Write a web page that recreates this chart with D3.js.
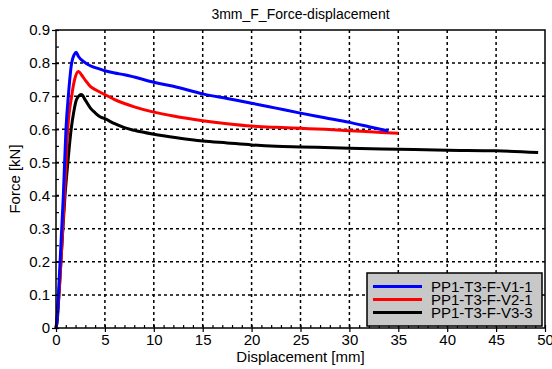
<!DOCTYPE html>
<meta charset="utf-8">
<title>3mm_F_Force-displacement</title>
<style>

body {
  margin: 0px;
  background: #fff;
}

text {
  font-family: "Liberation Sans", Arial, sans-serif;
  fill: #000;
}

.grid line {
  stroke: #000;
  stroke-width: 1.5;
  stroke-dasharray: 3,3;
}

path.curve {
  fill: none;
  stroke-width: 3;
  stroke-linejoin: round;
}

</style>

<script src="https://d3js.org/d3.v7.min.js"></script>

<body>

<script>

var width = 552, height = 369;

// series: displacement [mm] and force [kN]
var names = ["PP1-T3-F-V1-1", "PP1-T3-F-V2-1", "PP1-T3-F-V3-3"];
var colors = ["#0000ff", "#ff0000", "#000000"];

var v1x = [0, 0.1, 0.25, 0.5, 0.75, 1.02, 1.26, 1.6, 1.85, 2.05, 2.3, 2.8, 3.5, 4.5, 5, 6, 7, 8, 10, 12, 15, 17.5, 20, 22.5, 25, 27.5, 30, 32, 34];
var v1f = [0, 0.02, 0.1, 0.25, 0.4, 0.6, 0.7, 0.8, 0.825, 0.833, 0.82, 0.805, 0.792, 0.782, 0.777, 0.77, 0.765, 0.758, 0.742, 0.73, 0.707, 0.693, 0.679, 0.664, 0.649, 0.635, 0.621, 0.608, 0.595];

var v2x = [0, 0.1, 0.3, 0.6, 0.95, 1.2, 1.6, 1.9, 2.3, 2.6, 3.0, 3.5, 4, 5, 6, 7, 8, 10, 12, 15, 17.5, 20, 22.5, 25, 27.5, 30, 32.5, 35];
var v2f = [0, 0.03, 0.1, 0.25, 0.45, 0.6, 0.7, 0.75, 0.775, 0.765, 0.748, 0.73, 0.72, 0.705, 0.69, 0.678, 0.668, 0.652, 0.64, 0.626, 0.617, 0.61, 0.606, 0.603, 0.6, 0.596, 0.592, 0.588];

var v3x = [0, 0.15, 0.3, 0.6, 0.92, 1.15, 1.37, 1.55, 1.8, 2.1, 2.6, 3.0, 3.5, 4, 4.5, 5, 6, 7, 8, 10, 12.5, 15, 17.5, 20, 22.5, 25, 30, 35, 40, 45, 49.3];
var v3f = [0, 0.03, 0.1, 0.25, 0.4, 0.48, 0.55, 0.6, 0.65, 0.69, 0.705, 0.688, 0.665, 0.65, 0.638, 0.632, 0.617, 0.605, 0.597, 0.585, 0.574, 0.565, 0.559, 0.553, 0.549, 0.547, 0.543, 0.54, 0.537, 0.535, 0.53];

var xTicks = [0, 5, 10, 15, 20, 25, 30, 35, 40, 45, 50];
var yTicks = [0, 0.1, 0.2, 0.3, 0.4, 0.5, 0.6, 0.7, 0.8, 0.9];

var series = [[v1x, v1f], [v2x, v2f], [v3x, v3f]];

var plotL = 56, plotR = 545, plotT = 30, plotB = 328;

var x = d3.scaleLinear().domain([0, 50]).range([plotL, plotR]);
var y = d3.scaleLinear().domain([0, 0.9]).range([plotB, plotT]);

var svg = d3.select("body").append("svg")
    .attr("width", width)
    .attr("height", height);

// grid
var grid = svg.append("g").attr("class", "grid");
grid.selectAll("line.gx")
    .data(xTicks.slice(1, -1))
  .enter().append("line")
    .attr("x1", x).attr("x2", x)
    .attr("y1", plotT).attr("y2", plotB);
grid.selectAll("line.gy")
    .data(yTicks.slice(1, -1))
  .enter().append("line")
    .attr("y1", y).attr("y2", y)
    .attr("x1", plotL).attr("x2", plotR);

// curves
var line = d3.line()
    .x(function(d) { return x(d[0]); })
    .y(function(d) { return y(d[1]); })
    .curve(d3.curveMonotoneX);

svg.selectAll("path.curve")
    .data(series.slice().reverse())
  .enter().append("path")
    .attr("class", "curve")
    .attr("stroke", function(d, i) { return colors[2 - i]; })
    .attr("d", function(d) { return line(d3.zip(d[0], d[1])); });

// axes
var xAxis = svg.append("g")
    .attr("transform", "translate(0," + plotB + ")")
    .call(d3.axisBottom(x).tickValues(xTicks).tickSize(4).tickPadding(2).tickFormat(d3.format("d")));
var yAxis = svg.append("g")
    .attr("transform", "translate(" + plotL + ",0)")
    .call(d3.axisLeft(y).tickValues(yTicks).tickSize(4).tickPadding(2).tickFormat(function(d) { return d === 0 ? "0" : d3.format(".1f")(d); }));

// minor ticks, pointing inward
svg.append("g").call(d3.axisBottom(x).ticks(50).tickSize(-3).tickFormat(""))
    .attr("transform", "translate(0," + plotB + ")");
svg.append("g").call(d3.axisLeft(y).ticks(18).tickSize(-3).tickFormat(""))
    .attr("transform", "translate(" + plotL + ",0)");

svg.selectAll(".tick line").attr("stroke", "#000").attr("stroke-width", 1.2);
svg.selectAll(".domain").remove();
[xAxis, yAxis].forEach(function(a) {
  a.selectAll("text")
      .attr("font-size", 15)
      .attr("font-family", "Liberation Sans, Arial, sans-serif")
      .attr("fill", "#000");
});

// frame
svg.append("rect")
    .attr("x", plotL).attr("y", plotT)
    .attr("width", plotR - plotL).attr("height", plotB - plotT)
    .attr("fill", "none").attr("stroke", "#000").attr("stroke-width", 1.5);

// titles
svg.append("text")
    .attr("x", (plotL + plotR) / 2).attr("y", 19)
    .attr("text-anchor", "middle").attr("font-size", 14)
    .text("3mm_F_Force-displacement");
svg.append("text")
    .attr("x", (plotL + plotR) / 2).attr("y", 362)
    .attr("text-anchor", "middle").attr("font-size", 15)
    .text("Displacement [mm]");
svg.append("text")
    .attr("transform", "translate(20," + (plotT + plotB) / 2 + ") rotate(-90)")
    .attr("text-anchor", "middle").attr("font-size", 15)
    .text("Force [kN]");

// legend
var lg = svg.append("g").attr("transform", "translate(367,273)");
lg.append("rect")
    .attr("width", 175).attr("height", 53)
    .attr("fill", "#c8c8c8").attr("stroke", "#000").attr("stroke-width", 1.5);
var row = lg.selectAll("g.row")
    .data(names)
  .enter().append("g")
    .attr("transform", function(d, i) { return "translate(0," + (13.5 + i * 13) + ")"; });
row.append("line")
    .attr("x1", 6).attr("x2", 55)
    .attr("stroke", function(d, i) { return colors[i]; })
    .attr("stroke-width", 3);
row.append("text")
    .attr("x", 64).attr("y", 5.5)
    .attr("font-size", 15)
    .text(function(d) { return d; });

</script>
